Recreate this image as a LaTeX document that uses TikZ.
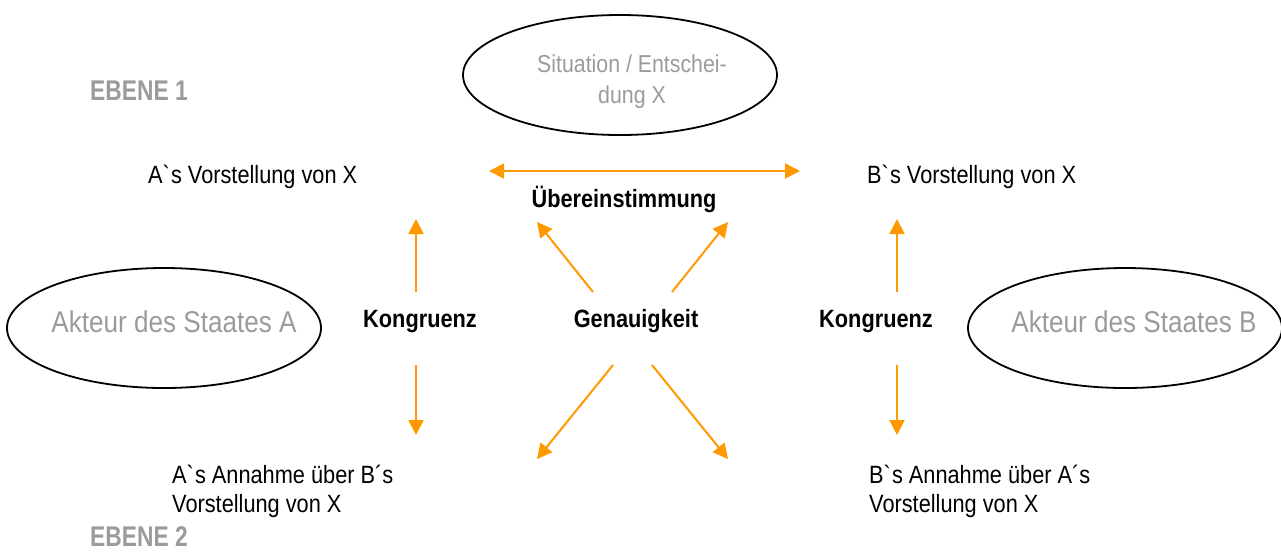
\documentclass[tikz,border=0pt]{standalone}
\usepackage{fontspec}
\setmainfont[FakeStretch=0.87]{Liberation Sans}
\newfontfamily\ebenefont[FakeStretch=0.8]{Liberation Sans}
\usetikzlibrary{arrows.meta,shapes.geometric}
\definecolor{pfeilorange}{RGB}{255,153,0}
\definecolor{textgrau}{RGB}{155,155,155}

\begin{document}
\begin{tikzpicture}[x=1pt,y=-1pt,
    akteur/.style={draw,ellipse,line width=1.8pt,minimum width=314pt,minimum height=120pt,inner sep=0pt},
    grautext/.style={text=textgrau,inner sep=0pt},
    normtext/.style={inner sep=0pt,font=\fontsize{25}{29}\selectfont},
    fetttext/.style={inner sep=0pt,font=\fontsize{25}{29}\selectfont\bfseries},
    ebene/.style={inner sep=0pt,text=textgrau,font=\ebenefont\fontsize{28.5}{32}\selectfont\bfseries},
    pfeil/.style={-{Triangle[width=15pt,length=15pt]},line width=2pt,draw=pfeilorange}]
            \useasboundingbox (0,0) rectangle (1281,558);
            % Ebenen
            \node[ebene,anchor=base west] (ebene1) at (90,100) {EBENE 1};
            \node[ebene,anchor=base west] (ebene2) at (90,546) {EBENE 2};
            % Ellipsen
            \node[akteur] (situation) at (620,75) {};
            \node[akteur] (staatA) at (164,328) {};
            \node[akteur] (staatB) at (1125,328) {};
            \node[grautext,anchor=base,align=center,font=\fontsize{24.5}{31}\selectfont] (situationtxt) at (632,103) {Situation / Entschei-\\dung X};
            \node[grautext,anchor=base,font=\fontsize{30}{34}\selectfont] (staatAtxt) at (174,332) {Akteur des Staates A};
            \node[grautext,anchor=base,font=\fontsize{30}{34}\selectfont] (staatBtxt) at (1134,332) {Akteur des Staates B};
            % Vorstellungen
            \node[normtext,anchor=base west] (vorstA) at (148,183) {A\textasciigrave s Vorstellung von X};
            \node[normtext,anchor=base west] (vorstB) at (867,183) {B\textasciigrave s Vorstellung von X};
            \node[normtext,anchor=base west,align=left] (annahmeA) at (172,512) {A\textasciigrave s Annahme über B´s\\Vorstellung von X};
            \node[normtext,anchor=base west,align=left] (annahmeB) at (869,512) {B\textasciigrave s Annahme über A´s\\Vorstellung von X};
            % Begriffe
            \node[fetttext,anchor=base] (uebereinst) at (624,207) {Übereinstimmung};
            \node[fetttext,anchor=base] (kongA) at (420,327) {Kongruenz};
            \node[fetttext,anchor=base] (genau) at (636,327) {Genauigkeit};
            \node[fetttext,anchor=base] (kongB) at (876,327) {Kongruenz};
            % Pfeilenden
            \coordinate (hL) at (489,171);
            \coordinate (hR) at (800,171);
            \coordinate (kAo1) at (416,292); \coordinate (kAo2) at (416,219);
            \coordinate (kAu1) at (416,365); \coordinate (kAu2) at (416,435);
            \coordinate (kBo1) at (897,292); \coordinate (kBo2) at (897,219);
            \coordinate (kBu1) at (897,365); \coordinate (kBu2) at (897,435);
            \coordinate (gOL1) at (593,292); \coordinate (gOL2) at (537,222);
            \coordinate (gOR1) at (672,292); \coordinate (gOR2) at (728,222);
            \coordinate (gUL1) at (613,365); \coordinate (gUL2) at (537,459);
            \coordinate (gUR1) at (652,365); \coordinate (gUR2) at (728,459);
            \draw[pfeil,{Triangle[width=15pt,length=15pt]}-{Triangle[width=15pt,length=15pt]}] (hL) -- (hR);
            \draw[pfeil] (kAo1) -- (kAo2);
            \draw[pfeil] (kAu1) -- (kAu2);
            \draw[pfeil] (kBo1) -- (kBo2);
            \draw[pfeil] (kBu1) -- (kBu2);
            \draw[pfeil] (gOL1) -- (gOL2);
            \draw[pfeil] (gOR1) -- (gOR2);
            \draw[pfeil] (gUL1) -- (gUL2);
            \draw[pfeil] (gUR1) -- (gUR2);
\end{tikzpicture}
\end{document}
